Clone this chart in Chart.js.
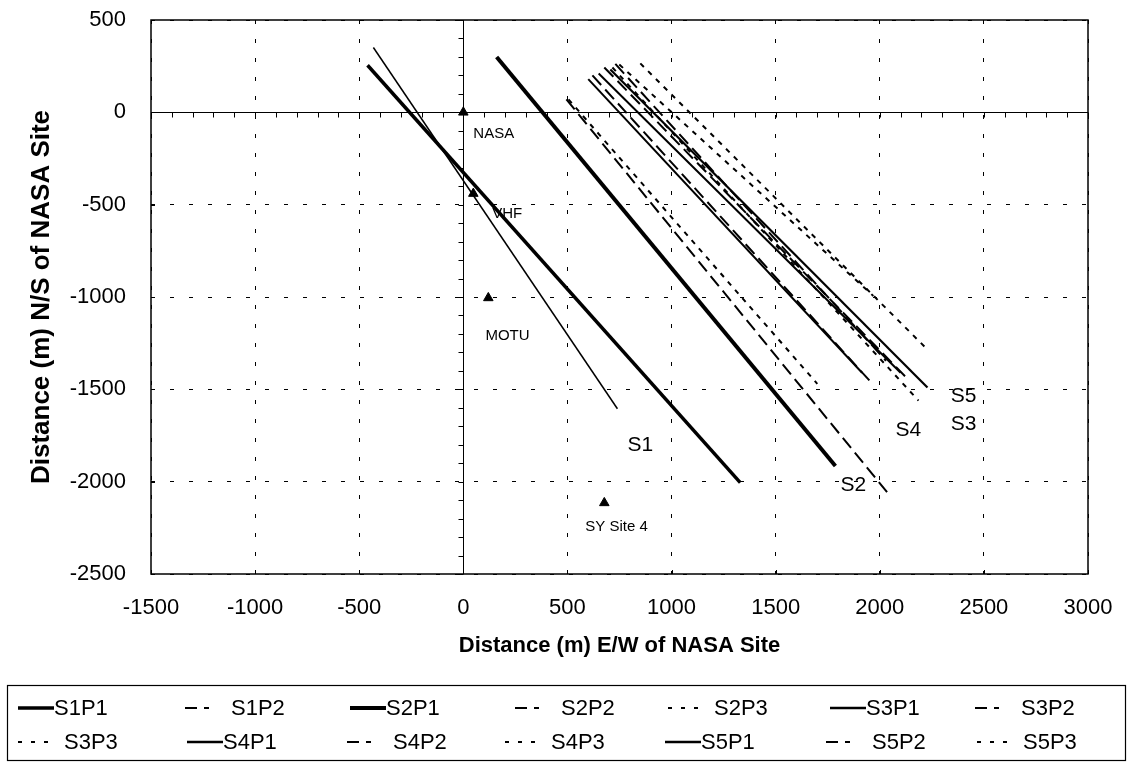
<!DOCTYPE html>
<html><head><meta charset="utf-8">
<script src="https://cdn.jsdelivr.net/npm/chart.js@4.4.0/dist/chart.umd.min.js"></script>
<style>html,body{margin:0;padding:0;background:#fff;}#wrap{width:1132px;height:764px;}</style>
</head><body><div id="wrap"><canvas id="c" width="1132" height="764"></canvas></div>
<script>
// ---- data ----
const seriesNames = ['S1P1','S1P2','S2P1','S2P2','S2P3','S3P1','S3P2','S3P3','S4P1','S4P2','S4P3','S5P1','S5P2','S5P3'];
const S1P1 = [[-460, 255], [1330, -2005]];
const S1P2 = [[-432, 351], [740, -1605]];
const S2P1 = [[160, 300], [1787, -1915]];
const S2P2 = [[495, 70], [2036, -2058]];
const S2P3 = [[505, 70], [1700, -1470]];
const S3P1 = [[650, 210], [2100, -1410]];
const S3P2 = [[730, 262], [2030, -1345]];
const S3P3 = [[716, 243], [2186, -1561]];
const S4P1 = [[600, 180], [1915, -1410]];
const S4P2 = [[620, 200], [1955, -1458]];
const S4P3 = [[749, 259], [1969, -994]];
const S5P1 = [[706, 232], [2229, -1490]];
const S5P2 = [[677, 243], [2123, -1431]];
const S5P3 = [[850, 265], [2234, -1290]];
const siteNames = ['NASA', 'VHF', 'MOTU', 'SY Site 4'];
const siteX = [0, 48, 120, 677];
const siteY = [0, -440, -1005, -2115];
const xTickValues = [-1500, -1000, -500, 0, 500, 1000, 1500, 2000, 2500, 3000];
const yTickValues = [-2500, -2000, -1500, -1000, -500, 0, 500];
const groupNames = ['S1', 'S2', 'S3', 'S4', 'S5'];

const seriesData = {S1P1,S1P2,S2P1,S2P2,S2P3,S3P1,S3P2,S3P3,S4P1,S4P2,S4P3,S5P1,S5P2,S5P3};

// ---- styles ----
const FONT = "'Liberation Sans', Arial, sans-serif";
const LONG = [13, 6], SHORT = [5, 6];
const P2LEG = [12, 7, 5, 30], P3LEG = [4, 9];
const lineStyle = {
  S1P1:{w:3.5,dash:[],leg:[]}, S1P2:{w:1.5,dash:[],leg:P2LEG},
  S2P1:{w:4,dash:[],leg:[]},   S2P2:{w:2,dash:LONG,leg:P2LEG}, S2P3:{w:2,dash:SHORT,leg:P3LEG},
  S3P1:{w:2,dash:[],leg:[]},   S3P2:{w:2,dash:LONG,leg:P2LEG}, S3P3:{w:2,dash:SHORT,leg:P3LEG},
  S4P1:{w:2,dash:[],leg:[]},   S4P2:{w:2,dash:LONG,leg:P2LEG}, S4P3:{w:2,dash:SHORT,leg:P3LEG},
  S5P1:{w:2.2,dash:[],leg:[]}, S5P2:{w:2,dash:LONG,leg:P2LEG}, S5P3:{w:2,dash:SHORT,leg:P3LEG}
};

const datasets = seriesNames.map(n => ({
  label: n,
  data: seriesData[n].map(p => ({x: p[0], y: p[1]})),
  showLine: true, fill: false, tension: 0,
  borderColor: '#000', backgroundColor: '#000',
  borderWidth: lineStyle[n].w, borderDash: lineStyle[n].dash, borderCapStyle: 'butt',
  pointRadius: 0, pointHoverRadius: 0
}));
datasets.push({
  label: 'Sites',
  data: siteX.map((x, i) => ({x, y: siteY[i]})),
  showLine: false, pointStyle: 'triangle', pointRadius: 5.5,
  backgroundColor: '#000', borderColor: '#000', borderWidth: 1
});

// text annotations anchored in data space
const siteLabelPos = [[48, -119], [139, -551], [106, -1210], [586, -2246]];
const groupLabelPos = [[850, -1803], [1873, -2019], [2402, -1690], [2137, -1722], [2402, -1539]];

const legendCols = [[18, 185, 350, 515, 668, 830, 975], [18, 187, 347, 505, 665, 826, 977]];
const legendRowY = [708, 742];

const decor = {
  id: 'decor',
  beforeDatasetsDraw(chart) {
    const {ctx, chartArea: a, scales: {x, y}} = chart;
    ctx.save();
    ctx.strokeStyle = '#000';
    ctx.lineWidth = 1;
    const y0 = Math.round(y.getPixelForValue(0)) + 0.5;
    const x0 = Math.round(x.getPixelForValue(0)) + 0.5;
    for (let v = -1500; v <= 3000; v += 100) {
      const px = Math.round(x.getPixelForValue(v)) + 0.5;
      ctx.beginPath(); ctx.moveTo(px, y0); ctx.lineTo(px, y0 + 5); ctx.stroke();
    }
    for (let v = -2500; v <= 500; v += 100) {
      const py = Math.round(y.getPixelForValue(v)) + 0.5;
      ctx.beginPath(); ctx.moveTo(x0 - 5, py); ctx.lineTo(x0, py); ctx.stroke();
    }
    xTickValues.forEach(v => {
      const px = Math.round(x.getPixelForValue(v)) + 0.5;
      ctx.beginPath(); ctx.moveTo(px, a.bottom); ctx.lineTo(px, a.bottom - 4); ctx.stroke();
    });
    yTickValues.forEach(v => {
      const py = Math.round(y.getPixelForValue(v)) + 0.5;
      ctx.beginPath(); ctx.moveTo(a.left, py); ctx.lineTo(a.left + 4, py); ctx.stroke();
    });
    ctx.lineWidth = 1.5;
    ctx.strokeRect(a.left, a.top, a.width, a.height);
    ctx.restore();
  },
  afterDraw(chart) {
    const {ctx, scales: {x, y}} = chart;
    ctx.save();
    ctx.fillStyle = '#000';
    ctx.textBaseline = 'middle';
    ctx.textAlign = 'left';
    ctx.font = "15px " + FONT;
    siteNames.forEach((s, i) => {
      ctx.fillText(s, x.getPixelForValue(siteLabelPos[i][0]), y.getPixelForValue(siteLabelPos[i][1]));
    });
    ctx.textAlign = 'center';
    ctx.font = "21px " + FONT;
    groupNames.forEach((s, i) => {
      ctx.fillText(s, x.getPixelForValue(groupLabelPos[i][0]), y.getPixelForValue(groupLabelPos[i][1]));
    });
    // legend
    ctx.strokeStyle = '#000';
    ctx.lineWidth = 1.2;
    ctx.strokeRect(7.5, 685.5, 1118, 75);
    ctx.textAlign = 'left';
    ctx.font = "22px " + FONT;
    seriesNames.forEach((n, i) => {
      const r = Math.floor(i / 7), c = i % 7;
      const sx = legendCols[r][c], sy = legendRowY[r];
      const st = lineStyle[n];
      const solid = st.leg.length === 0;
      const len = 36;
      ctx.save();
      ctx.lineWidth = solid ? Math.max(st.w, 2.5) : 2;
      ctx.setLineDash(st.leg);
      ctx.beginPath(); ctx.moveTo(sx, sy); ctx.lineTo(sx + len, sy); ctx.stroke();
      ctx.restore();
      ctx.fillText(n, sx + len + (solid ? 0 : 10), sy + 1);
    });
    ctx.restore();
  }
};

const TICKFONT = {family: FONT, size: 22};
new Chart(document.getElementById('c'), {
  type: 'scatter',
  data: {datasets},
  options: {
    responsive: false, animation: false, devicePixelRatio: 1,
    layout: {padding: {left: 0, right: 44, top: 20, bottom: 0}},
    plugins: {legend: {display: false}, tooltip: {enabled: false}},
    scales: {
      x: {
        type: 'linear', min: -1500, max: 3000,
        afterFit(s) { s.height = 190; },
        afterBuildTicks(s) { s.ticks = xTickValues.map(v => ({value: v})); },
        ticks: {color: '#000', font: TICKFONT, padding: 0, maxRotation: 0, callback: v => String(v)},
        grid: {color: '#000', lineWidth: 1, drawTicks: true, tickLength: 21, tickColor: 'rgba(0,0,0,0)'},
        border: {display: false, dash: c => (c.tick && c.tick.value === 0) ? [] : [4, 15]},
        title: {display: true, text: 'Distance (m) E/W of NASA Site', color: '#000',
          font: {family: FONT, size: 22, weight: 'bold'}, padding: {top: 0, bottom: 105}}
      },
      y: {
        type: 'linear', min: -2500, max: 500,
        afterFit(s) { s.width = 151; },
        afterBuildTicks(s) { s.ticks = yTickValues.map(v => ({value: v})); },
        ticks: {color: '#000', font: TICKFONT, padding: 0, callback: v => String(v)},
        grid: {color: '#000', lineWidth: 1, drawTicks: true, tickLength: 25, tickColor: 'rgba(0,0,0,0)'},
        border: {display: false, dash: c => (c.tick && c.tick.value === 0) ? [] : [4, 15]},
        title: {display: true, text: 'Distance (m) N/S of NASA Site', color: '#000',
          font: {family: FONT, size: 26, weight: 'bold'}, padding: {top: 26, bottom: 0}}
      }
    }
  },
  plugins: [decor]
});
</script></body></html>
